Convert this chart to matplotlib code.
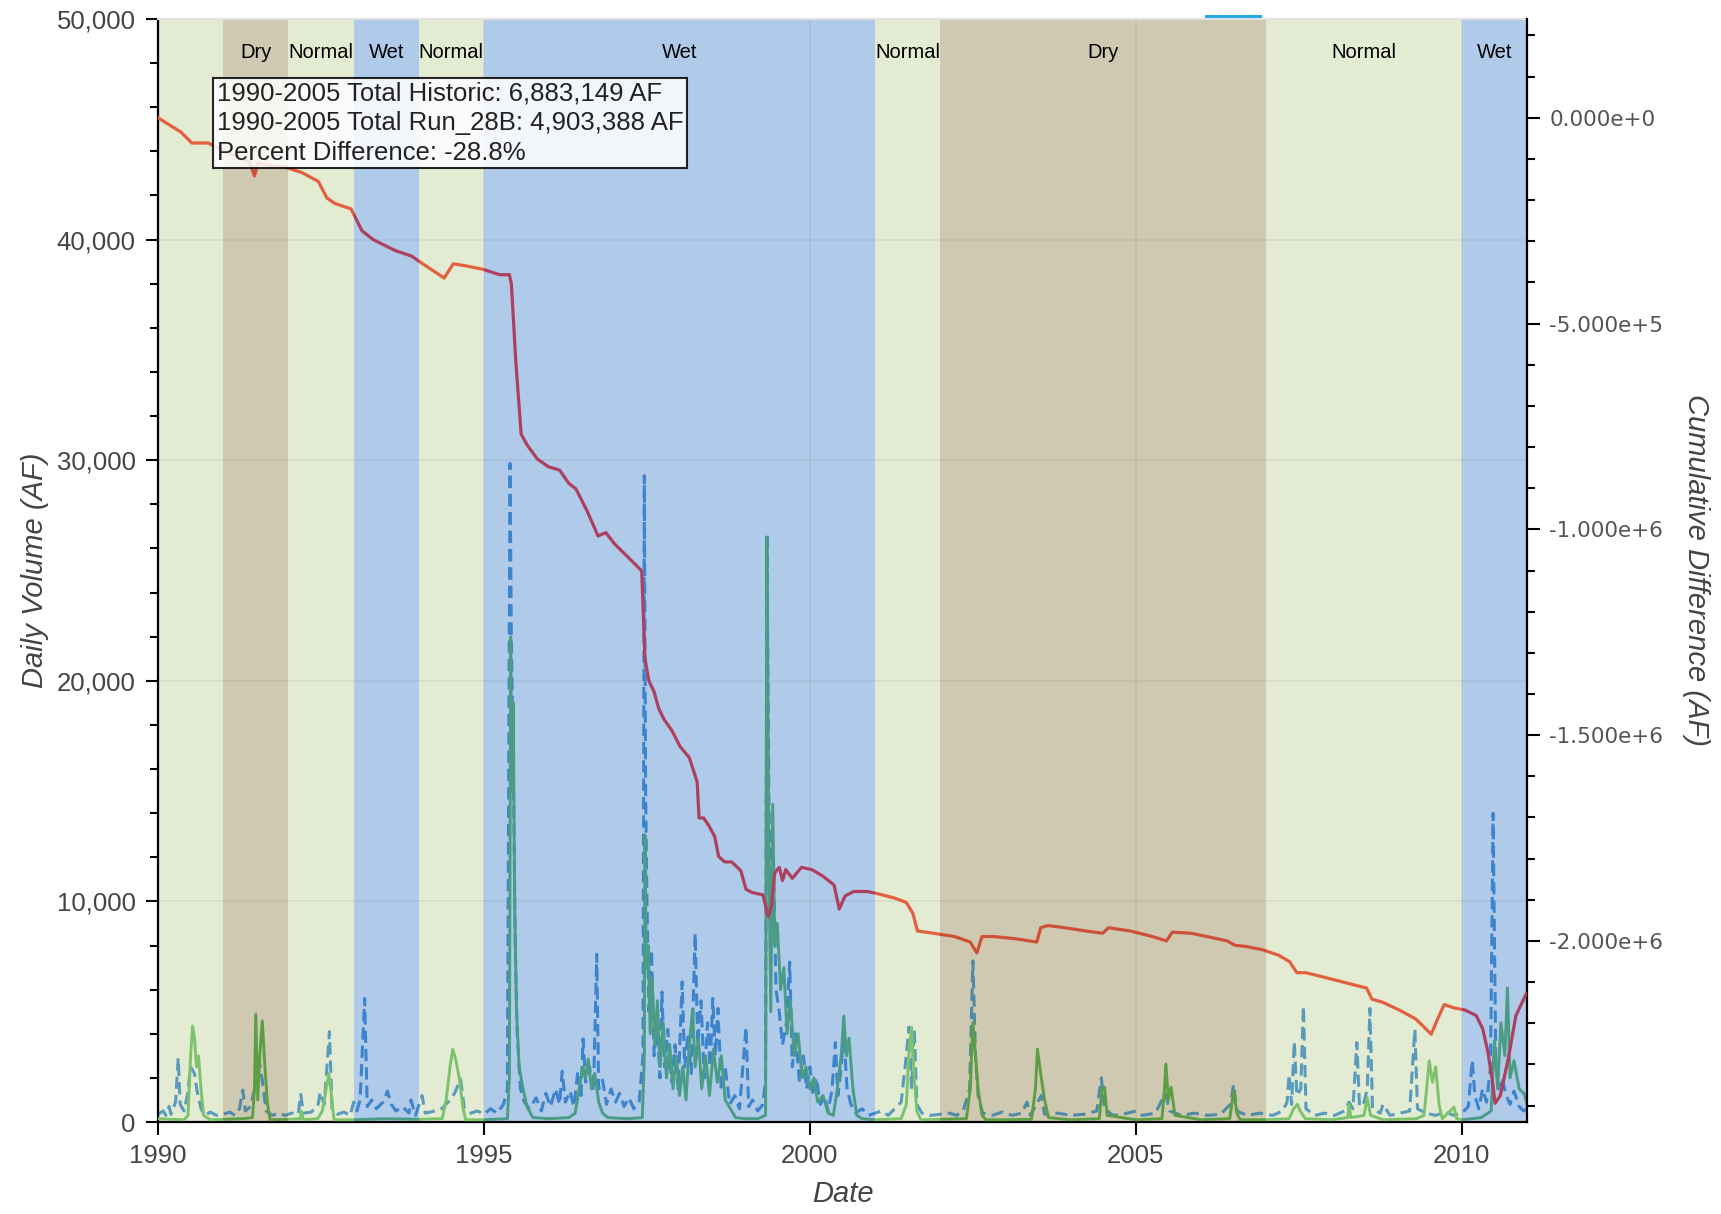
import matplotlib
matplotlib.use("Agg")
import matplotlib.pyplot as plt
import matplotlib.transforms as mtransforms
from matplotlib.patches import Rectangle
from matplotlib.ticker import FixedLocator, MultipleLocator, FuncFormatter
import numpy as np

plt.rcParams["font.family"] = ["Liberation Sans", "DejaVu Sans"]

# --------------------------------------------------
# Water year types (background bands)
# --------------------------------------------------

band_start = [1990, 1991, 1992, 1993, 1994, 1995, 2001, 2002, 2007, 2010]
band_end = [1991, 1992, 1993, 1994, 1995, 2001, 2002, 2007, 2010, 2011]
band_type = ["Normal", "Dry", "Normal", "Wet", "Normal",
             "Wet", "Normal", "Dry", "Normal", "Wet"]
band_label = ["", "Dry", "Normal", "Wet", "Normal",
              "Wet", "Normal", "Dry", "Normal", "Wet"]

# --------------------------------------------------
# Daily volume, historic (AF)
# --------------------------------------------------

hist_year = [
    1990.00, 1990.08, 1990.12, 1990.17, 1990.20, 1990.27, 1990.31, 1990.34,
    1990.40, 1990.45, 1990.50, 1990.56, 1990.60, 1990.66, 1990.72, 1990.80,
    1990.90, 1991.00, 1991.10, 1991.18, 1991.25, 1991.30, 1991.34, 1991.42,
    1991.48, 1991.55, 1991.60, 1991.66, 1991.75, 1991.85, 1991.95, 1992.05,
    1992.15, 1992.19, 1992.23, 1992.35, 1992.45, 1992.49, 1992.55, 1992.63,
    1992.67, 1992.75, 1992.85, 1992.95, 1993.00, 1993.05, 1993.10, 1993.17,
    1993.21, 1993.28, 1993.35, 1993.45, 1993.52, 1993.58, 1993.65, 1993.75,
    1993.85, 1993.88, 1993.95, 1994.05, 1994.10, 1994.25, 1994.35, 1994.45,
    1994.55, 1994.64, 1994.70, 1994.80, 1994.90, 1995.00, 1995.10, 1995.20,
    1995.30, 1995.36, 1995.40, 1995.42, 1995.44, 1995.46, 1995.48, 1995.51,
    1995.56, 1995.62, 1995.70, 1995.80, 1995.88, 1995.95, 1996.02, 1996.10,
    1996.16, 1996.20, 1996.25, 1996.32, 1996.38, 1996.44, 1996.49, 1996.52,
    1996.56, 1996.62, 1996.68, 1996.73, 1996.76, 1996.82, 1996.88, 1996.95,
    1997.02, 1997.08, 1997.15, 1997.22, 1997.30, 1997.38, 1997.44, 1997.46,
    1997.48, 1997.50, 1997.53, 1997.57, 1997.61, 1997.66, 1997.70, 1997.73,
    1997.77, 1997.82, 1997.88, 1997.93, 1997.98, 1998.04, 1998.08, 1998.13,
    1998.18, 1998.24, 1998.28, 1998.33, 1998.38, 1998.43, 1998.47, 1998.51,
    1998.55, 1998.59, 1998.64, 1998.70, 1998.77, 1998.85, 1998.92, 1999.02,
    1999.06, 1999.12, 1999.20, 1999.28, 1999.32, 1999.34, 1999.37, 1999.40,
    1999.44, 1999.48, 1999.53, 1999.58, 1999.64, 1999.69, 1999.73, 1999.78,
    1999.84, 1999.90, 1999.95, 2000.00, 2000.05, 2000.10, 2000.16, 2000.22,
    2000.28, 2000.34, 2000.39, 2000.43, 2000.48, 2000.52, 2000.57, 2000.63,
    2000.70, 2000.80, 2000.90, 2001.00, 2001.10, 2001.20, 2001.30, 2001.40,
    2001.46, 2001.52, 2001.56, 2001.60, 2001.64, 2001.72, 2001.85, 2002.00,
    2002.15, 2002.25, 2002.35, 2002.45, 2002.50, 2002.54, 2002.58, 2002.65,
    2002.80, 2002.95, 2003.10, 2003.25, 2003.33, 2003.38, 2003.55, 2003.60,
    2003.80, 2004.00, 2004.20, 2004.40, 2004.47, 2004.52, 2004.65, 2004.80,
    2005.00, 2005.10, 2005.30, 2005.45, 2005.52, 2005.70, 2005.90, 2006.10,
    2006.30, 2006.45, 2006.50, 2006.55, 2006.70, 2006.90, 2007.10, 2007.25,
    2007.32, 2007.35, 2007.39, 2007.43, 2007.47, 2007.53, 2007.57, 2007.61,
    2007.75, 2007.90, 2008.05, 2008.20, 2008.27, 2008.33, 2008.39, 2008.43,
    2008.50, 2008.55, 2008.59, 2008.63, 2008.75, 2008.79, 2008.90, 2009.05,
    2009.20, 2009.28, 2009.32, 2009.45, 2009.60, 2009.75, 2009.88, 2010.00,
    2010.10, 2010.16, 2010.20, 2010.26, 2010.32, 2010.38, 2010.44, 2010.48,
    2010.52, 2010.56, 2010.62, 2010.68, 2010.74, 2010.80, 2010.88, 2010.95,
    2011.00,
]
hist_af = [
    350, 500, 300, 700, 350, 900, 2900, 800,
    500, 1200, 2500, 2200, 1400, 600, 300, 450,
    300, 350, 450, 300, 600, 1450, 500, 700,
    1500, 2800, 1900, 500, 300, 400, 300, 400,
    350, 1250, 400, 450, 700, 1350, 800, 4100,
    600, 350, 450, 300, 900, 500, 1000, 5600,
    700, 1000, 600, 900, 1400, 800, 500, 700,
    400, 1000, 300, 1200, 400, 500, 600, 900,
    1300, 1950, 600, 400, 500, 350, 600, 400,
    800, 1500, 29850, 22000, 18000, 13500, 8000, 4000,
    1500, 900, 600, 1100, 500, 1300, 700, 1500,
    800, 2300, 900, 1400, 700, 2300, 1200, 3770,
    1800, 2500, 1400, 7600, 1500, 1900, 800, 1500,
    900, 1300, 700, 1100, 600, 900, 3000, 29300,
    15000, 10000, 5000, 7800, 3000, 4500, 2000, 5900,
    2500, 4200, 1800, 3500, 1500, 6350, 2500, 4000,
    2200, 8550, 3500, 5500, 2000, 4500, 2500, 5600,
    3000, 5150, 1500, 2500, 800, 1200, 600, 4300,
    700, 1000, 500, 800, 2000, 26700, 15000, 9000,
    12000, 6000, 5000, 3500, 4500, 7250, 2500, 4000,
    1800, 3000, 1500, 2500, 1200, 2000, 800, 1200,
    500, 1500, 3600, 1200, 2500, 4000, 1500, 800,
    400, 600, 300, 400, 500, 300, 600, 900,
    2500, 4300, 1500, 4200, 800, 400, 300, 350,
    400, 300, 500, 1500, 7300, 3000, 1200, 400,
    300, 450, 300, 400, 900, 300, 1200, 350,
    400, 300, 350, 500, 2000, 600, 300, 350,
    500, 300, 400, 1300, 500, 300, 400, 300,
    350, 800, 1700, 500, 300, 400, 300, 500,
    900, 2150, 800, 3650, 1200, 1500, 5250, 600,
    300, 400, 300, 500, 900, 600, 3600, 700,
    900, 1500, 5150, 600, 400, 800, 300, 400,
    500, 4200, 600, 400, 300, 450, 300, 400,
    700, 2800, 1200, 600, 1500, 900, 2500, 14000,
    3000, 1500, 2000, 1200, 800, 1400, 700, 500,
    600,
]

# --------------------------------------------------
# Daily volume, Run_28B (AF)
# --------------------------------------------------

run_year = [
    1990.00, 1990.20, 1990.40, 1990.46, 1990.50, 1990.53, 1990.56, 1990.59,
    1990.62, 1990.66, 1990.70, 1990.80, 1991.00, 1991.30, 1991.45, 1991.48,
    1991.50, 1991.53, 1991.56, 1991.60, 1991.64, 1991.68, 1991.72, 1992.00,
    1992.18, 1992.20, 1992.23, 1992.45, 1992.52, 1992.58, 1992.62, 1992.66,
    1992.70, 1993.00, 1993.50, 1994.00, 1994.36, 1994.42, 1994.48, 1994.52,
    1994.57, 1994.62, 1994.68, 1994.72, 1995.00, 1995.36, 1995.39, 1995.41,
    1995.43, 1995.45, 1995.47, 1995.50, 1995.54, 1995.60, 1995.66, 1995.75,
    1996.00, 1996.30, 1996.40, 1996.46, 1996.52, 1996.56, 1996.60, 1996.65,
    1996.70, 1996.76, 1996.82, 1996.90, 1997.20, 1997.43, 1997.46, 1997.47,
    1997.49, 1997.52, 1997.55, 1997.58, 1997.62, 1997.66, 1997.70, 1997.75,
    1997.80, 1997.85, 1997.90, 1997.95, 1998.00, 1998.05, 1998.10, 1998.15,
    1998.20, 1998.24, 1998.29, 1998.34, 1998.40, 1998.46, 1998.52, 1998.58,
    1998.64, 1998.70, 1998.78, 1998.86, 1999.00, 1999.20, 1999.32, 1999.34,
    1999.37, 1999.40, 1999.43, 1999.46, 1999.50, 1999.55, 1999.60, 1999.65,
    1999.70, 1999.76, 1999.82, 1999.88, 1999.94, 2000.00, 2000.06, 2000.12,
    2000.20, 2000.28, 2000.36, 2000.42, 2000.48, 2000.52, 2000.56, 2000.60,
    2000.66, 2000.72, 2000.80, 2001.00, 2001.40, 2001.48, 2001.52, 2001.56,
    2001.60, 2001.64, 2001.70, 2002.00, 2002.40, 2002.46, 2002.50, 2002.54,
    2002.58, 2002.64, 2002.70, 2003.00, 2003.40, 2003.46, 2003.49, 2003.54,
    2003.60, 2003.66, 2004.00, 2004.44, 2004.48, 2004.52, 2004.56, 2005.00,
    2005.40, 2005.44, 2005.46, 2005.50, 2005.54, 2005.60, 2006.00, 2006.44,
    2006.48, 2006.50, 2006.55, 2006.60, 2007.00, 2007.35, 2007.42, 2007.48,
    2007.52, 2007.60, 2008.00, 2008.25, 2008.27, 2008.30, 2008.50, 2008.55,
    2008.60, 2008.80, 2009.30, 2009.42, 2009.46, 2009.50, 2009.55, 2009.60,
    2009.65, 2009.70, 2009.88, 2009.92, 2010.00, 2010.30, 2010.45, 2010.50,
    2010.55, 2010.60, 2010.66, 2010.70, 2010.74, 2010.80, 2010.88, 2010.96,
    2011.00,
]
run_af = [
    150, 120, 100, 300, 3000, 4350, 3800, 2500,
    3000, 1500, 300, 100, 120, 150, 200, 1500,
    4890, 1000, 3000, 4580, 2500, 800, 100, 120,
    150, 500, 100, 150, 500, 1500, 2200, 1200,
    100, 100, 150, 120, 150, 1000, 2500, 3300,
    2800, 2000, 600, 100, 100, 150, 2000, 22000,
    15000, 19000, 10000, 5000, 2500, 1500, 700, 200,
    150, 200, 400, 1500, 2500, 2000, 2860, 1500,
    2200, 900, 400, 200, 150, 200, 3000, 13000,
    7000, 8000, 4000, 6500, 3500, 5500, 2500, 4500,
    2000, 3500, 1500, 3000, 1200, 2500, 1000, 3500,
    5100, 2500, 3800, 1500, 3000, 1200, 3300, 1800,
    3000, 1000, 600, 200, 150, 150, 300, 26500,
    12000, 5000, 14400, 8000, 9000, 6000, 7000, 4000,
    5500, 3000, 4000, 2000, 2500, 1500, 2000, 900,
    1200, 400, 300, 1500, 3000, 4800, 3000, 3800,
    1500, 300, 150, 100, 150, 800, 3200, 4300,
    2000, 500, 100, 120, 150, 1500, 4500, 3000,
    1500, 300, 100, 100, 120, 1500, 3300, 2200,
    1000, 200, 100, 150, 1500, 1575, 300, 100,
    150, 1500, 2625, 1000, 1575, 300, 100, 150,
    1000, 1400, 400, 100, 100, 150, 600, 800,
    500, 150, 100, 200, 800, 200, 300, 1100,
    300, 100, 150, 300, 1500, 2775, 1800, 2500,
    800, 150, 675, 150, 100, 200, 500, 3675,
    1500, 4500, 3000, 6075, 2000, 2775, 1500, 1275,
    800,
]

# --------------------------------------------------
# Cumulative difference (AF), right axis
# --------------------------------------------------

cum_year = [
    1990.00, 1990.35, 1990.52, 1990.77, 1990.94, 1991.20, 1991.41, 1991.48,
    1991.53, 1991.70, 1991.95, 1992.21, 1992.46, 1992.59, 1992.71, 1992.96,
    1993.13, 1993.30, 1993.64, 1993.89, 1994.06, 1994.39, 1994.53, 1994.73,
    1994.98, 1995.24, 1995.39, 1995.42, 1995.49, 1995.57, 1995.66, 1995.82,
    1995.99, 1996.16, 1996.30, 1996.41, 1996.58, 1996.75, 1996.87, 1997.00,
    1997.17, 1997.34, 1997.42, 1997.47, 1997.53, 1997.61, 1997.68, 1997.76,
    1997.88, 1998.01, 1998.15, 1998.27, 1998.30, 1998.37, 1998.45, 1998.54,
    1998.60, 1998.69, 1998.80, 1998.94, 1999.02, 1999.12, 1999.28, 1999.36,
    1999.41, 1999.46, 1999.53, 1999.58, 1999.63, 1999.73, 1999.87, 2000.03,
    2000.20, 2000.37, 2000.45, 2000.54, 2000.67, 2000.88, 2001.04, 2001.30,
    2001.48, 2001.58, 2001.65, 2001.89, 2002.22, 2002.46, 2002.56, 2002.64,
    2002.81, 2003.15, 2003.48, 2003.54, 2003.65, 2003.91, 2004.24, 2004.49,
    2004.58, 2004.92, 2005.25, 2005.47, 2005.56, 2005.84, 2006.09, 2006.40,
    2006.52, 2006.68, 2006.94, 2007.19, 2007.36, 2007.47, 2007.61, 2007.95,
    2008.28, 2008.54, 2008.62, 2008.79, 2009.04, 2009.29, 2009.43, 2009.53,
    2009.63, 2009.73, 2009.88, 2010.05, 2010.22, 2010.32, 2010.40, 2010.47,
    2010.51, 2010.59, 2010.71, 2010.83, 2010.99,
]
cum_af = [
    0, -34700, -61300, -61300, -74700, -93300, -109300, -141300,
    -109300, -114700, -120000, -133300, -154700, -194700, -208000, -221300,
    -274700, -296000, -322700, -336000, -354700, -389300, -354700, -360000,
    -368000, -381300, -381300, -402700, -594700, -768000, -794700, -829300,
    -848000, -856000, -888000, -901300, -954700, -1016000, -1008000, -1034700,
    -1061300, -1088000, -1101300, -1314700, -1368000, -1394700, -1434700, -1461300,
    -1488000, -1528000, -1554700, -1613300, -1701300, -1701300, -1720000, -1746700,
    -1794700, -1808000, -1808000, -1829300, -1874700, -1882700, -1888000, -1941300,
    -1914700, -1834700, -1821300, -1853300, -1826700, -1848000, -1821300, -1826700,
    -1842700, -1864000, -1922700, -1890700, -1880000, -1880000, -1885300, -1896000,
    -1906700, -1933300, -1976000, -1981300, -1989300, -2002700, -2029300, -1989300,
    -1989300, -1994700, -2002700, -1968000, -1962700, -1968000, -1976000, -1981300,
    -1968000, -1976000, -1989300, -2000000, -1978700, -1981300, -1989300, -2000000,
    -2010700, -2013300, -2021300, -2034700, -2050700, -2077300, -2077300, -2090700,
    -2104000, -2114700, -2141300, -2149300, -2168000, -2189300, -2210700, -2226700,
    -2189300, -2154700, -2162700, -2168000, -2181300, -2213300, -2269300, -2341300,
    -2394700, -2376000, -2288000, -2181300, -2128000,
]

summary_lines = [
    "1990-2005 Total Historic: 6,883,149 AF",
    "1990-2005 Total Run_28B: 4,903,388 AF",
    "Percent Difference: -28.8%",
]

# --------------------------------------------------
# Colours per year type
# --------------------------------------------------

band_colors = {"Normal": "#e3ebd3", "Dry": "#cfc9b1", "Wet": "#b0cbe9"}
hist_colors = {"Normal": "#5a9bbd", "Dry": "#4f8aa6", "Wet": "#3d84cc"}
run_colors = {"Normal": "#7cc36b", "Dry": "#5d9e45", "Wet": "#4b9c84"}
cum_colors = {"Normal": "#e2603e", "Dry": "#cf5038", "Wet": "#ad405e"}


def plot_by_band(axis, x, y, colors, **kw):
    # draw the series once per band, clipped to that band, in the band colour
    trans = mtransforms.blended_transform_factory(axis.transData, axis.transAxes)
    for x0, x1, t in zip(band_start, band_end, band_type):
        line, = axis.plot(x, y, color=colors[t], **kw)
        line.set_clip_path(Rectangle((x0, 0), x1 - x0, 1, transform=trans))


def sci_fmt(v, pos):
    if v == 0:
        return "0.000e+0"
    exp = int(np.floor(np.log10(abs(v))))
    return f"{v / 10 ** exp:.3f}e+{exp}"


# --------------------------------------------------
# Figure
# --------------------------------------------------

fig = plt.figure(figsize=(17.21, 12.14), dpi=100)
ax = fig.add_axes([158 / 1721, 1 - 1122 / 1214, 1369 / 1721, 1103 / 1214])

for x0, x1, t in zip(band_start, band_end, band_type):
    ax.axvspan(x0, x1, color=band_colors[t], lw=0, zorder=0.2)

label_trans = mtransforms.blended_transform_factory(ax.transData, ax.transAxes)
for x0, x1, lab in zip(band_start, band_end, band_label):
    ax.text((x0 + x1) / 2, 0.970, lab, transform=label_trans,
            ha="center", va="center", fontsize=14.5, color="black", zorder=5)

plot_by_band(ax, hist_year, hist_af, hist_colors,
             lw=2.2, dashes=(4, 2), zorder=2)
plot_by_band(ax, run_year, run_af, run_colors, lw=2.1, zorder=3)

ax.set_xlim(1990, 2011)
ax.set_ylim(0, 50000)
ax.xaxis.set_major_locator(FixedLocator([1990, 1995, 2000, 2005, 2010]))
ax.xaxis.set_major_formatter(FuncFormatter(lambda v, p: f"{int(v)}"))
ax.yaxis.set_major_locator(MultipleLocator(10000))
ax.yaxis.set_minor_locator(MultipleLocator(2000))
ax.yaxis.set_major_formatter(FuncFormatter(lambda v, p: f"{int(v):,}"))

ax.set_axisbelow(True)
ax.grid(True, which="major", color="#000000", alpha=0.055, lw=1.2)

ax.tick_params(axis="both", which="major", labelsize=18.5, labelcolor="#444444",
               direction="out", length=9, width=1.5, pad=7)
ax.tick_params(axis="y", which="minor", direction="out", length=6, width=1.5)

for side in ["left", "bottom"]:
    ax.spines[side].set_linewidth(1.6)
    ax.spines[side].set_color("black")
ax.spines["right"].set_visible(False)
ax.spines["top"].set_color("#e2e2e2")
ax.spines["top"].set_linewidth(1.5)

ax.set_xlabel("Date", fontsize=21, style="italic", color="#444444",
              va="center")
ax.xaxis.set_label_coords(0.5, -0.0653)
ax.set_ylabel("Daily Volume (AF)", fontsize=21, style="italic", color="#444444",
              va="center", ha="center", rotation_mode="anchor")
ax.yaxis.set_label_coords(-0.0898, 0.5)

# --------------------------------------------------
# Right axis: cumulative difference
# --------------------------------------------------

ax2 = ax.twinx()
plot_by_band(ax2, cum_year, cum_af, cum_colors, lw=2.3, zorder=4)
ax2.set_ylim(-2.44e6, 2.4e5)
ax2.yaxis.set_major_locator(MultipleLocator(500000))
ax2.yaxis.set_minor_locator(MultipleLocator(100000))
ax2.yaxis.set_major_formatter(FuncFormatter(sci_fmt))
ax2.tick_params(axis="y", which="major", direction="out", length=9, width=1.5,
                pad=7, labelsize=15.5, labelcolor="#555555")
ax2.tick_params(axis="y", which="minor", direction="out", length=6, width=1.5)
for lab in ax2.get_yticklabels():
    lab.set_fontfamily("DejaVu Sans")
for side in ["left", "top", "bottom"]:
    ax2.spines[side].set_visible(False)
ax2.spines["right"].set_linewidth(1.6)
ax2.spines["right"].set_color("black")

ax2.set_ylabel("Cumulative Difference (AF)", fontsize=21, style="italic",
               color="#444444", rotation=270, va="center", ha="center",
               rotation_mode="anchor")
ax2.yaxis.set_label_coords(1.1235, 0.5)

# summary box
ax2.text(0.0431, 0.943, "\n".join(summary_lines), transform=ax.transAxes,
         ha="left", va="top", fontsize=18.5, color="#222222", linespacing=1.28,
         zorder=10,
         bbox=dict(boxstyle="square,pad=0.15", fc="white", alpha=0.85,
                   ec="black", lw=1.5))

# toolbar accent
fig.add_artist(Rectangle((1205 / 1721, 1 - 18 / 1214), 57 / 1721, 3 / 1214,
                         transform=fig.transFigure, color="#27a9e1", lw=0))

fig.savefig("out.png", dpi=100)
